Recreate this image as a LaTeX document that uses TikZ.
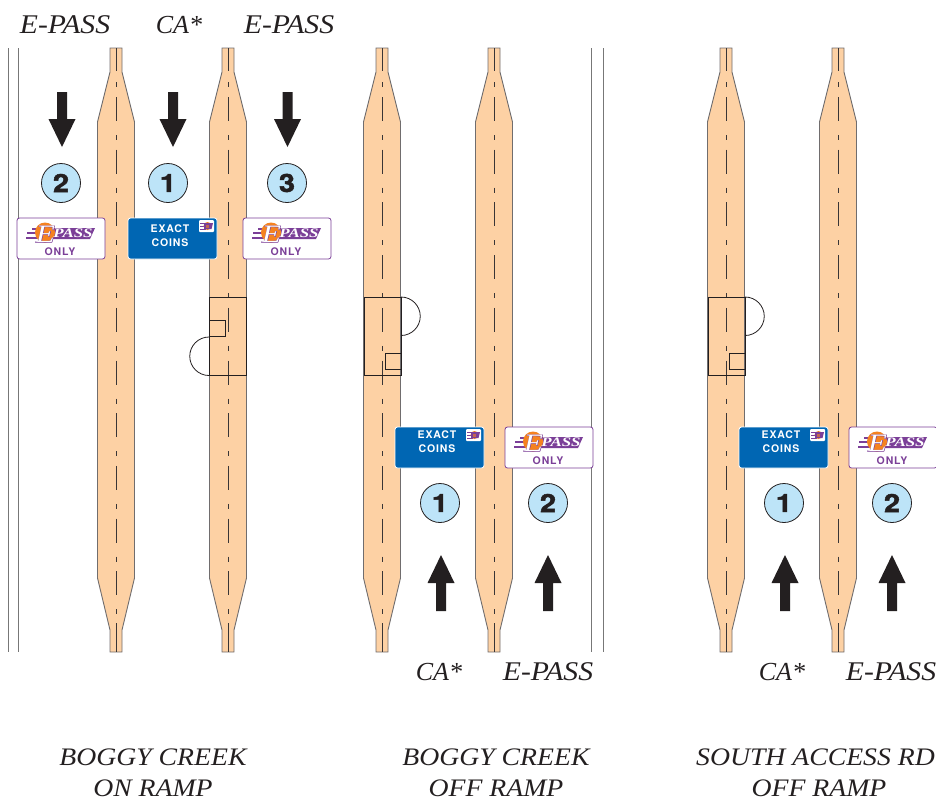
\documentclass[tikz,border=0pt]{standalone}
\usepackage{fontspec}
\setmainfont{Liberation Serif}
\newfontfamily\signfont[LetterSpace=8]{TeX Gyre Heros}
\newfontfamily\digitfont[FakeBold=2,FakeStretch=1.15]{TeX Gyre Heros}
\newfontfamily\logofont[FakeBold=2.5,FakeStretch=1.25]{Liberation Serif}
\newfontfamily\whitefont[FakeStretch=1.25]{Liberation Serif}
\newfontfamily\passfont[FakeStretch=1.3]{Liberation Serif}
\newfontfamily\widefont[FakeStretch=1.1]{Liberation Serif}
\definecolor{islandfill}{HTML}{FDD1A4}
\definecolor{edgegray}{HTML}{777777}
\definecolor{inkdark}{HTML}{231F20}
\definecolor{laneblue}{HTML}{BDE4F8}
\definecolor{signblue}{HTML}{0066B3}
\definecolor{passpurple}{HTML}{7B3F98}
\definecolor{passorange}{HTML}{F58220}
\tikzset{
    island/.style={fill=islandfill,draw=inkdark!65,line width=0.9pt,line join=miter},
    centerline/.style={draw=inkdark!90,line width=0.9pt},
    dashline/.style={centerline,dash pattern=on 24pt off 14pt on 5pt off 9.7pt,dash phase=3.7pt},
    booth/.style={draw=inkdark,line width=0.8pt},
    lanecircle/.style={circle,draw=inkdark,fill=laneblue,line width=0.8pt,minimum size=39pt,inner sep=0pt,font=\digitfont\bfseries\fontsize{25}{25}\selectfont,text=inkdark},
    passtext/.style={font=\widefont\itshape\fontsize{27}{27}\selectfont,text=inkdark,inner sep=0pt},
    catext/.style={font=\itshape\fontsize{26}{26}\selectfont,text=inkdark,inner sep=0pt},
    titletext/.style={font=\widefont\itshape\fontsize{25.2}{31}\selectfont,text=inkdark,align=center,inner sep=0pt},
    cointext/.style={text=white,inner sep=0pt,align=center,font=\signfont\bfseries\fontsize{10.5}{14}\selectfont},
    epasssign/.pic={
        \draw[passpurple,fill=white,rounded corners=2.5pt,line width=0.8pt] (0,0) rectangle (88,41);
        \foreach \ly/\lx in {10.8/15,15.3/10,19.8/9}
            \draw[passpurple,line width=2.2pt] (\lx,\ly)--(28,\ly);
        \fill[passpurple] (26,10)--(78,10)--(73,21)--(26,21)--cycle;
        \fill[passorange] (28,14.5) circle[radius=10];
        \node[text=passpurple,inner sep=0pt,font=\logofont\itshape\fontsize{25}{25}\selectfont] (e1) at (28.5,16) {E};
        \node[text=white,inner sep=0pt,font=\whitefont\itshape\fontsize{25}{25}\selectfont] (e2) at (28.5,16) {E};
        \node[text=white,inner sep=0pt,font=\passfont\itshape\bfseries\fontsize{13}{13}\selectfont] (pass) at (56,15.5) {PASS};
        \node[text=passpurple,inner sep=0pt,font=\signfont\bfseries\fontsize{10.5}{10.5}\selectfont] (only) at (43,33.5) {ONLY};
    },
    coinsign/.pic={
        \draw[white,fill=signblue,rounded corners=2.5pt,line width=0.8pt] (0,0) rectangle (89,41);
        \fill[white,rounded corners=1pt] (71,2) rectangle (86,14);
        \foreach \ly in {5,8,11}
            \draw[passpurple,line width=1pt] (72,\ly)--(78,\ly);
        \fill[passorange] (79.5,8) circle[radius=4];
        \fill[passpurple] (76,5)--(85,5)--(83.5,11)--(76,11)--cycle;
        \fill[passorange!60!passpurple] (78,6.5) rectangle (81,9.5);
    }
}
\begin{document}
\begin{tikzpicture}[x=1pt,y=-1pt]
        \useasboundingbox (0,0) rectangle (936,801);
        \foreach \cx in {116,228,382,494,726,838} {
            \draw[island] (\cx-6,48)--(\cx+6,48)--(\cx+6,72)--(\cx+18.5,122)--(\cx+18.5,578)
                --(\cx+6,630)--(\cx+6,652)--(\cx-6,652)--(\cx-6,630)--(\cx-18.5,578)--(\cx-18.5,122)--(\cx-6,72)--cycle;
            \draw[dashline] (\cx,48)--(\cx,623);
            \draw[centerline] (\cx,48)--(\cx,71);
            \draw[centerline] (\cx,623)--(\cx,652);
        }
        \foreach \ex in {8,18,591,603}
            \draw[edgegray,line width=1pt] (\ex,48)--(\ex,652);
        \foreach \bx/\sx/\sy/\ax/\ay/\ad in {209/209/320/209/337/-1,364/385/353/401/297/1,708/729/353/745/297/1} {
            \draw[booth] (\bx,297) rectangle (\bx+37,375);
            \draw[booth] (\sx,\sy) rectangle (\sx+16.5,\sy+16.5);
            \draw[booth] (\ax,\ay) arc[start angle=-90,delta angle=\ad*180,radius=19.25];
        }
        \foreach \ax in {62,173,287.5}
            \fill[inkdark] (\ax-5,92)--(\ax+5,92)--(\ax+5,119)--(\ax+13.5,119)--(\ax,147)--(\ax-13.5,119)--(\ax-5,119)--cycle;
        \foreach \ax in {441,548,785,892}
            \fill[inkdark] (\ax-5,611)--(\ax+5,611)--(\ax+5,583)--(\ax+13.5,583)--(\ax,555)--(\ax-13.5,583)--(\ax-5,583)--cycle;
        \foreach \cname/\cx/\cy/\cnum in {ca/61/183/2,cb/168/183/1,cc/287/183/3,cd/440/503/1,ce/548/503/2,cf/784/503/1,cg/892/503/2}
            \node[lanecircle] (\cname) at (\cx,\cy) {\cnum};
        \foreach \sname/\sx/\sy in {pa/17/218,pb/243/218,pc/505/427,pd/849/427}
            \pic (\sname) at (\sx,\sy) {epasssign};
        \foreach \sname/\sx/\sy/\ty in {xa/128/218/236,xb/395/427/442,xc/739/427/442} {
            \pic (\sname) at (\sx,\sy) {coinsign};
            \node[cointext] (\sname text) at (\sx+42,\ty) {EXACT\\COINS};
        }
        \foreach \tname/\tx/\ty in {la/65/25,lc/289/25,le/548/672,lg/891/672}
            \node[passtext] (\tname) at (\tx,\ty) {E-PASS};
        \foreach \tname/\tx/\ty in {lb/179/25,ld/439/672,lf/782/672}
            \node[catext] (\tname) at (\tx,\ty) {CA*};
        \node[titletext] (rampa) at (153,772.5) {BOGGY CREEK\\ON RAMP};
        \node[titletext] (rampb) at (496,772.5) {BOGGY CREEK\\OFF RAMP};
        \node[titletext] (rampc) at (815.5,757) {SOUTH ACCESS RD};
        \node[titletext] (rampd) at (819,788) {OFF RAMP};
    \end{tikzpicture}
\end{document}
